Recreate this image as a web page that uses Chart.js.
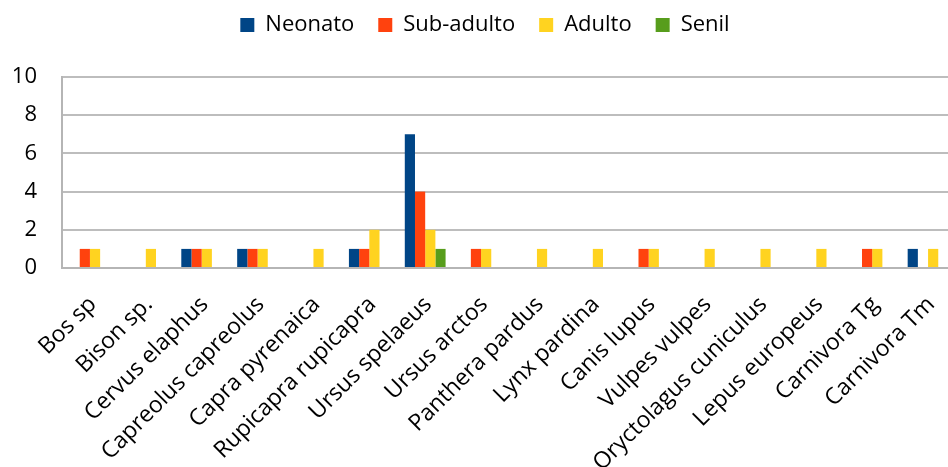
<!DOCTYPE html>
<html>
<head>
<meta charset="utf-8">
<script src="https://cdn.jsdelivr.net/npm/chart.js@4/dist/chart.umd.min.js"></script>
<style>
  html, body { margin: 0; padding: 0; background: #fff; overflow: hidden; }
  #wrap { width: 956px; height: 467px; }
</style>
</head>
<body>
<div id="wrap"><canvas id="ageChart"></canvas></div>
<script>
const species = ['Bos sp', 'Bison sp.', 'Cervus elaphus', 'Capreolus capreolus', 'Capra pyrenaica',
    'Rupicapra rupicapra', 'Ursus spelaeus', 'Ursus arctos', 'Panthera pardus', 'Lynx pardina',
    'Canis lupus', 'Vulpes vulpes', 'Oryctolagus cuniculus', 'Lepus europeus', 'Carnivora Tg', 'Carnivora Tm'];

const neonato   = [0, 0, 1, 1, 0, 1, 7, 0, 0, 0, 0, 0, 0, 0, 0, 1];
const subAdulto = [1, 0, 1, 1, 0, 1, 4, 1, 0, 0, 1, 0, 0, 0, 1, 0];
const adulto    = [1, 1, 1, 1, 1, 2, 2, 1, 1, 1, 1, 1, 1, 1, 1, 1];
const senil     = [0, 0, 0, 0, 0, 0, 1, 0, 0, 0, 0, 0, 0, 0, 0, 0];

const yTicks = [0, 2, 4, 6, 8, 10];

const font = { family: 'Open Sans', size: 22 };
const catFont = { family: 'Open Sans', size: 23 };

// fixed legend band so the plot starts well below it
const legendGap = {
    id: 'legendGap',
    beforeInit(chart) {
        const fit = chart.legend.fit;
        chart.legend.fit = function () {
            fit.bind(chart.legend)();
            this.height = 87;
        };
    }
};

new Chart(document.getElementById('ageChart'), {
    type: 'bar',
    data: {
        labels: species,
        datasets: [
            { label: 'Neonato', data: neonato, backgroundColor: '#004586' },
            { label: 'Sub-adulto', data: subAdulto, backgroundColor: '#ff420e' },
            { label: 'Adulto', data: adulto, backgroundColor: '#ffd320' },
            { label: 'Senil', data: senil, backgroundColor: '#579d1c' }
        ]
    },
    options: {
        responsive: true,
        maintainAspectRatio: false,
        animation: false,
        layout: { padding: { top: -10, left: 14, right: 0, bottom: 0 } },
        datasets: {
            bar: { categoryPercentage: 0.73, barPercentage: 1, borderWidth: 0 }
        },
        plugins: {
            legend: {
                position: 'top',
                labels: {
                    font: font,
                    color: '#000',
                    boxWidth: 14,
                    boxHeight: 14,
                    padding: 24
                }
            },
            tooltip: { enabled: false }
        },
        scales: {
            x: {
                grid: { display: false },
                border: { display: true, color: '#b5b5b5', width: 2 },
                ticks: {
                    font: catFont,
                    color: '#000',
                    autoSkip: false,
                    minRotation: 45,
                    maxRotation: 45,
                    padding: 15,
                    labelOffset: 3
                },
                afterFit(scale) {
                    scale.height = 199;
                    scale.paddingLeft = 0;
                    scale.paddingRight = 0;
                }
            },
            y: {
                min: 0,
                max: 10,
                afterBuildTicks(scale) {
                    scale.ticks = yTicks.map(v => ({ value: v }));
                },
                grid: { color: '#bdbdbd', lineWidth: 2, drawTicks: false },
                border: { display: true, color: '#b5b5b5', width: 2 },
                ticks: { font: font, color: '#000', padding: 25 },
                afterFit(scale) { scale.width = 48; }
            }
        }
    },
    plugins: [legendGap]
});
</script>
</body>
</html>
